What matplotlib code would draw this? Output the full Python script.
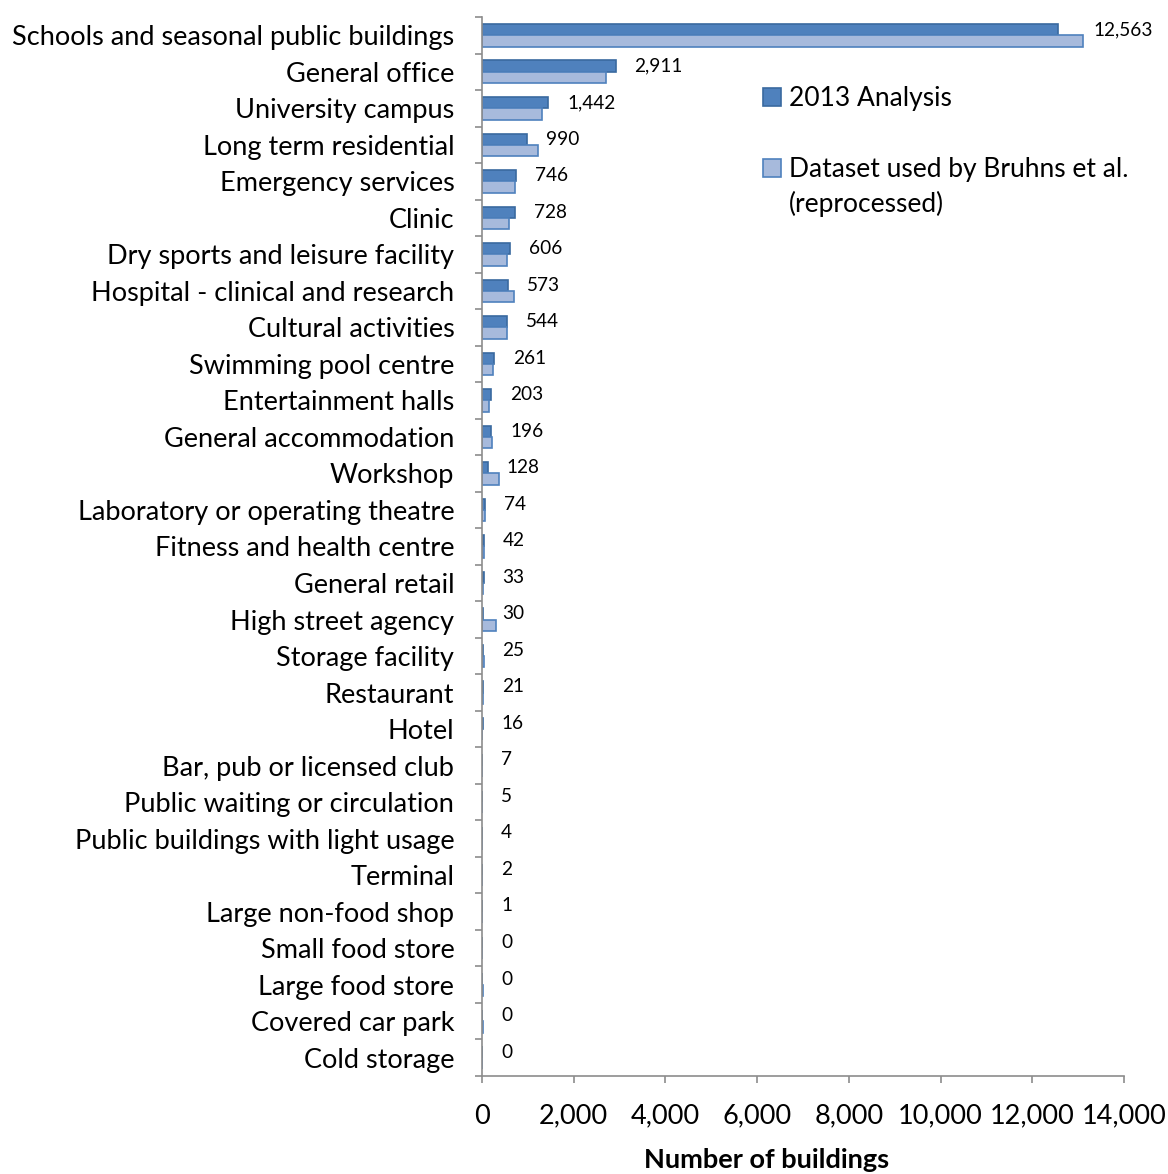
import matplotlib.pyplot as plt
import numpy as np

plt.rcParams['font.family'] = ['Lato', 'DejaVu Sans']

# building categories, top to bottom
categories = ['Schools and seasonal public buildings', 'General office', 'University campus',
              'Long term residential', 'Emergency services', 'Clinic',
              'Dry sports and leisure facility', 'Hospital - clinical and research',
              'Cultural activities', 'Swimming pool centre', 'Entertainment halls',
              'General accommodation', 'Workshop', 'Laboratory or operating theatre',
              'Fitness and health centre', 'General retail', 'High street agency',
              'Storage facility', 'Restaurant', 'Hotel', 'Bar, pub or licensed club',
              'Public waiting or circulation', 'Public buildings with light usage',
              'Terminal', 'Large non-food shop', 'Small food store', 'Large food store',
              'Covered car park', 'Cold storage']

analysis_2013 = [12563, 2911, 1442, 990, 746, 728, 606, 573, 544, 261, 203, 196, 128,
                 74, 42, 33, 30, 25, 21, 16, 7, 5, 4, 2, 1, 0, 0, 0, 0]
bruhns = [13100, 2700, 1310, 1220, 720, 590, 545, 700, 540, 250, 160, 210, 360,
          60, 45, 30, 300, 50, 15, 10, 5, 3, 2, 1, 1, 0, 20, 15, 0]

dark_fill, dark_edge = '#4F81BD', '#3A6A9F'
light_fill, light_edge = '#A7BADC', '#4F81BD'

fig = plt.figure(figsize=(11.68, 11.74), dpi=100)
ax = fig.add_axes([0.4127, 0.0835, 0.5496, 0.902])

y = np.arange(len(categories))
h = 0.31
ax.barh(y - h / 2, analysis_2013, height=h, color=dark_fill, edgecolor=dark_edge,
        linewidth=1.2, label='2013 Analysis')
ax.barh(y + h / 2, bruhns, height=h, color=light_fill, edgecolor=light_edge,
        linewidth=1.2, label='Dataset used by Bruhns et al.')

# value labels for the 2013 series
for yi, a, b in zip(y, analysis_2013, bruhns):
    if b - a > 400:
        anchor, off = b, 11
    else:
        anchor, off = a, 19
    ax.annotate(f'{a:,}', (anchor, yi - h / 2), xytext=(off * 0.72, 0),
                textcoords='offset points', ha='left', va='center', fontsize=13.7)

ax.set_ylim(len(categories) - 0.5, -0.5)
ax.set_xlim(0, 14000)
ax.set_xticks(np.arange(0, 14001, 2000))
ax.set_xticklabels([f'{v:,}' for v in range(0, 14001, 2000)])

ax.set_yticks(y)
ax.set_yticklabels(categories)
ax.set_yticks(np.arange(len(categories) + 1) - 0.5, minor=True)
ax.tick_params(axis='y', which='major', length=0, pad=20, labelsize=19.5)
ax.tick_params(axis='y', which='minor', length=5, width=1.2, color='#8C8C8C')
ax.tick_params(axis='x', length=5, width=1.2, color='#8C8C8C', pad=15, labelsize=19.5)

for s in ['top', 'right']:
    ax.spines[s].set_visible(False)
for s in ['left', 'bottom']:
    ax.spines[s].set_color('#8C8C8C')
    ax.spines[s].set_linewidth(1.2)

ax.set_xlabel('Number of buildings', fontsize=19.5, fontweight='bold', labelpad=14, x=0.444)

leg = ax.legend(loc='upper left', bbox_to_anchor=(0.4, 0.957), frameon=False, fontsize=19,
                handlelength=0.7, handleheight=0.7, handletextpad=0.3, labelspacing=1.75)
# second line of the Bruhns legend entry, hung under its first line
ax.annotate('(reprocessed)', xy=(0, 0), xycoords=leg.get_texts()[1],
            xytext=(0, -25), textcoords='offset points', ha='left', va='bottom',
            fontsize=19, zorder=6)

fig.savefig('out.png', dpi=100)
